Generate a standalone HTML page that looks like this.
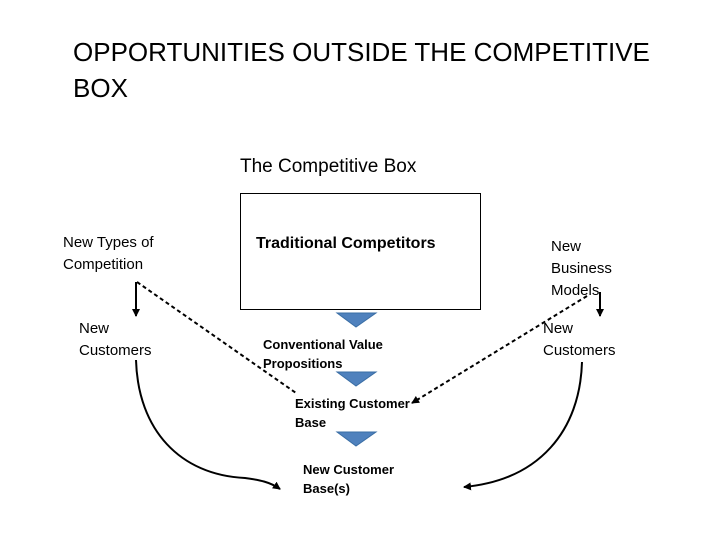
<!DOCTYPE html>
<html><head><style>
body{margin:0;width:720px;height:540px;background:#fff;position:relative;overflow:hidden;font-family:"Liberation Sans",sans-serif;color:#000}
.t{position:absolute;white-space:nowrap;line-height:22px}
</style></head><body>
<div class="t" style="left:73px;top:34px;font-size:26px;line-height:36px">OPPORTUNITIES OUTSIDE THE COMPETITIVE<br>BOX</div>
<div class="t" style="left:240px;top:156px;font-size:19px">The Competitive Box</div>
<svg width="720" height="540" style="position:absolute;left:0;top:0">
<defs><marker id="a" markerWidth="8" markerHeight="8" refX="7" refY="4" orient="auto" markerUnits="userSpaceOnUse"><path d="M0,0L8,4L0,8z" fill="#000"/></marker></defs>
<rect x="240.5" y="193.5" width="240" height="116" fill="#fff" stroke="#000"/>
<path d="M337,313L376,313L356,327z" fill="#4f81bd" stroke="#3a6ea5"/>
<path d="M337,372L376,372L356,386z" fill="#4f81bd" stroke="#3a6ea5"/>
<path d="M337,432L376,432L356,446z" fill="#4f81bd" stroke="#3a6ea5"/>
<line x1="136" y1="282" x2="136" y2="316" stroke="#000" stroke-width="2" marker-end="url(#a)"/>
<line x1="600" y1="292" x2="600" y2="316" stroke="#000" stroke-width="2" marker-end="url(#a)"/>
<line x1="137" y1="282" x2="296" y2="393" stroke="#000" stroke-width="2" stroke-dasharray="4,3"/>
<line x1="587" y1="296" x2="412" y2="403" stroke="#000" stroke-width="2" stroke-dasharray="4,3" marker-end="url(#a)"/>
<path d="M136,360C138,430 180,475 245,478C260,480 270,482 280,489" fill="none" stroke="#000" stroke-width="2" marker-end="url(#a)"/>
<path d="M582,362C580,430 540,480 464,487" fill="none" stroke="#000" stroke-width="2" marker-end="url(#a)"/>
</svg>
<div class="t" style="left:63px;top:232px;font-size:15px">New Types of<br>Competition</div>
<div class="t" style="left:79px;top:318px;font-size:15px">New<br>Customers</div>
<div class="t" style="left:256px;top:233px;font-size:16px;font-weight:bold">Traditional Competitors</div>
<div class="t" style="left:551px;top:236px;font-size:15px">New<br>Business<br>Models</div>
<div class="t" style="left:543px;top:318px;font-size:15px">New<br>Customers</div>
<div class="t" style="left:263px;top:335px;font-size:13px;font-weight:bold;line-height:19px">Conventional Value<br>Propositions</div>
<div class="t" style="left:295px;top:394px;font-size:13px;font-weight:bold;line-height:19px">Existing Customer<br>Base</div>
<div class="t" style="left:303px;top:460px;font-size:13px;font-weight:bold;line-height:19px">New Customer<br>Base(s)</div>
</body></html>
